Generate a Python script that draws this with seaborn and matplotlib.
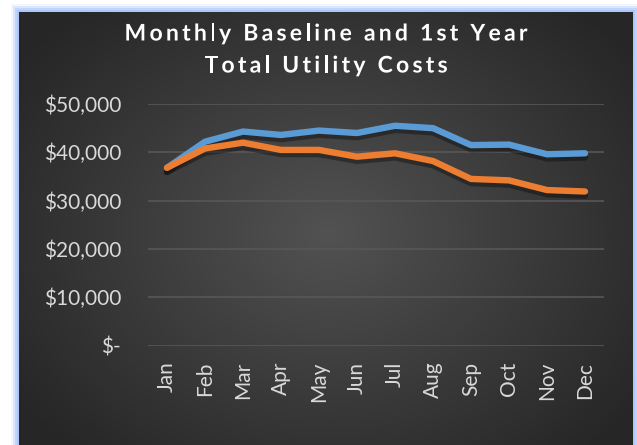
import numpy as np
import pandas as pd
import matplotlib
matplotlib.use("Agg")
import matplotlib.pyplot as plt
import matplotlib.patheffects as pe
from matplotlib.patches import Rectangle
from matplotlib.ticker import FuncFormatter
from matplotlib.font_manager import FontProperties
import seaborn as sb

# values
months = ["Jan", "Feb", "Mar", "Apr", "May", "Jun", "Jul", "Aug", "Sep", "Oct", "Nov", "Dec"]
baseline = [36800, 42200, 44300, 43600, 44500, 44000, 45500, 45000, 41500, 41600, 39600, 39800]
first_year = [36800, 40800, 42000, 40500, 40500, 39100, 39800, 38200, 34500, 34200, 32200, 31900]
yticks = [0, 10000, 20000, 30000, 40000, 50000]
title_lines = ["Monthly Baseline and 1st Year", "Total Utility Costs"]

df = pd.DataFrame({
    "Month": months * 2,
    "Cost": baseline + first_year,
    "Series": ["Baseline"] * 12 + ["1st Year"] * 12,
})

sb.set_style("white")
plt.rcParams["font.family"] = ["Lato", "DejaVu Sans"]

W, H = 637, 445
fig = plt.figure(figsize=(W / 100, H / 100), dpi=100, facecolor="white")

# blue glow behind the dark panel
x0, x1, ytop = 19, 633, 12
for i, a in enumerate([0.15, 0.3, 0.5, 0.8]):
    g = 8 - i * 2
    fig.patches.append(Rectangle(((x0 - g) / W, 0), (x1 - x0 + 2 * g) / W, (H - ytop + g) / H,
                                 transform=fig.transFigure, facecolor="#a8c4fb", alpha=a,
                                 edgecolor="none", zorder=0))

# dark panel with radial gradient
bg = fig.add_axes([x0 / W, 0, (x1 - x0) / W, (H - ytop) / H], zorder=1)
yy, xx = np.mgrid[0:433, 0:614]
r = np.sqrt(((xx - 310) / 380.0) ** 2 + ((yy - 220) / 300.0) ** 2)
shade = np.clip(0x52 - (0x52 - 0x26) * r, 0x26, 0x52) / 255.0
bg.imshow(np.dstack([shade, shade, shade]), aspect="auto", extent=[0, 1, 0, 1])
bg.set_axis_off()

ax = fig.add_axes([148 / W, (H - 345.7) / H, (604 - 148) / W, (345.7 - 104) / H], zorder=2)
ax.patch.set_alpha(0)

sb.lineplot(data=df, x="Month", y="Cost", hue="Series", sort=False,
            palette={"Baseline": "#5B9BD5", "1st Year": "#ED7D31"},
            linewidth=4.6, legend=False, ax=ax, zorder=3,
            path_effects=[pe.SimpleLineShadow(offset=(0, -3), alpha=0.35, shadow_color="black"),
                          pe.Normal()])
for ln in ax.lines:
    ln.set_solid_capstyle("round")
    ln.set_solid_joinstyle("round")

ax.set_xlim(-0.5, 11.5)
ax.set_ylim(0, 50000)
ax.set_yticks(yticks)
ax.yaxis.set_major_formatter(FuncFormatter(lambda v, p: "$-" if v == 0 else f"${v:,.0f}"))
ax.grid(axis="y", color="#575757", linewidth=1.2, zorder=0)
ax.grid(axis="x", visible=False)
for s in ax.spines.values():
    s.set_visible(False)
ax.tick_params(axis="y", length=0, pad=19.5, labelsize=15, labelcolor="#d9d9d9")
ax.tick_params(axis="x", length=0, pad=11.5, labelsize=15, labelcolor="#d9d9d9", rotation=90)
for t in ax.get_yticklabels() + ax.get_xticklabels():
    t.set_clip_on(False)
ax.set_xlabel("")
ax.set_ylabel("")

# title with letter spacing, drawn one character at a time
renderer = fig.canvas.get_renderer()
fp = FontProperties(family=["Lato", "DejaVu Sans"], weight="bold", size=16.5)
track = 3.3  # extra pixels between letters
for line, yc in zip(title_lines, [34, 66]):
    widths = [renderer.get_text_width_height_descent(c, fp, ismath=False)[0] for c in line]
    total = sum(widths) + track * (len(line) - 1)
    x = 326 - total / 2
    for c, w in zip(line, widths):
        fig.text(x / W, 1 - yc / H, c, ha="left", va="center", fontproperties=fp,
                 color="white", zorder=5,
                 path_effects=[pe.SimpleLineShadow(offset=(1, -1.5), alpha=0.6), pe.Normal()])
        x += w + track

fig.savefig("out.png", dpi=100, facecolor="white")
